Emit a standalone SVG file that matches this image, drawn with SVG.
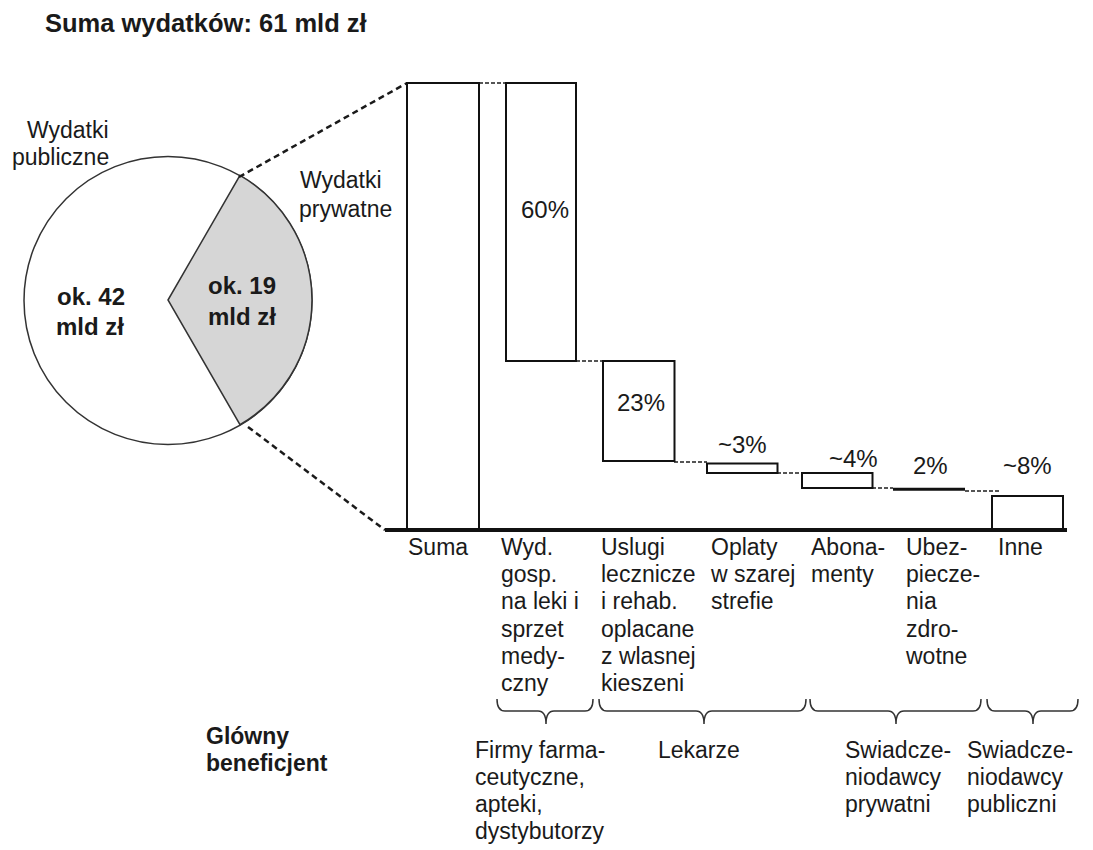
<svg xmlns="http://www.w3.org/2000/svg" width="1093" height="850" viewBox="0 0 1093 850">
<style>
text { font-family: "Liberation Sans", Arial, sans-serif; fill: #1a1a1a; }
.t { font-size: 23px; }
.p { font-size: 24px; }
.b { font-weight: bold; }
.bar { fill: #ffffff; stroke: #111; stroke-width: 2; }
.dash { fill: none; stroke: #1a1a1a; stroke-width: 2.5; stroke-dasharray: 6 4; }
.dot { fill: none; stroke: #555; stroke-width: 2; stroke-dasharray: 4 2; }
.brace { fill: none; stroke: #333; stroke-width: 1.5; }
</style>
<rect width="1093" height="850" fill="#ffffff"/>
<g id="title"><text x="45" y="31.5" class="b" style="font-size:25.5px">Suma wydatków: 61 mld zł</text></g>

<g id="pie">
  <circle cx="168" cy="300.5" r="144" fill="#ffffff" stroke="#333" stroke-width="1.5"/>
  <path d="M168,300 L240,175.3 A144,144 0 0 1 240,424.7 Z" fill="#d6d6d6" stroke="#333" stroke-width="1.5"/>
  <text x="57" y="305" class="b p">ok. 42</text>
  <text x="56" y="335" class="b p">mld zł</text>
  <text x="208" y="294" class="b p">ok. 19</text>
  <text x="208" y="325" class="b p">mld zł</text>
</g>
<g id="label-public"><text x="27" y="138" class="t">Wydatki</text><text x="12" y="165" class="t">publiczne</text></g>
<g id="label-private"><text x="300" y="188" class="t">Wydatki</text><text x="299" y="217" class="t">prywatne</text></g>

<g id="connectors">
  <line x1="239" y1="177" x2="407" y2="83" class="dash"/>
  <line x1="248" y1="427" x2="385" y2="530" class="dash"/>
  <line x1="479" y1="83" x2="506" y2="83" class="dot"/>
  <line x1="576" y1="361" x2="603" y2="361" class="dot"/>
  <line x1="674" y1="462" x2="707" y2="462" class="dot"/>
  <line x1="777" y1="473" x2="802" y2="473" class="dot"/>
  <line x1="872" y1="488" x2="893" y2="488" class="dot"/>
  <line x1="965" y1="491" x2="1000" y2="491" class="dot"/>
</g>

<g id="bar-suma"><rect x="407" y="83" width="72" height="446.5" class="bar"/><text x="408" y="555" class="t">Suma</text></g>
<g id="bar-wyd">
  <rect x="506" y="83" width="70" height="278" class="bar"/>
  <text x="521" y="218" class="p">60%</text>
  <text x="501" class="t"><tspan x="501" y="555">Wyd.</tspan><tspan x="501" y="582">gosp.</tspan><tspan x="501" y="609">na leki i</tspan><tspan x="501" y="637">sprzet</tspan><tspan x="501" y="664">medy-</tspan><tspan x="501" y="691">czny</tspan></text>
</g>
<g id="bar-uslugi">
  <rect x="603" y="361" width="71.5" height="100" class="bar"/>
  <text x="617" y="411" class="p">23%</text>
  <text class="t"><tspan x="601" y="555">Uslugi</tspan><tspan x="601" y="582">lecznicze</tspan><tspan x="601" y="609">i rehab.</tspan><tspan x="601" y="637">oplacane</tspan><tspan x="601" y="664">z wlasnej</tspan><tspan x="601" y="691">kieszeni</tspan></text>
</g>
<g id="bar-oplaty">
  <rect x="707" y="463.5" width="70.5" height="9.5" class="bar"/>
  <text x="718" y="453" class="p">~3%</text>
  <text class="t"><tspan x="711" y="555">Oplaty</tspan><tspan x="711" y="582">w szarej</tspan><tspan x="711" y="609">strefie</tspan></text>
</g>
<g id="bar-abonamenty">
  <rect x="802" y="473" width="70.5" height="15" class="bar"/>
  <text x="829" y="467" class="p">~4%</text>
  <text class="t"><tspan x="811" y="555">Abona-</tspan><tspan x="811" y="582">menty</tspan></text>
</g>
<g id="bar-ubezpieczenia">
  <line x1="893" y1="489.3" x2="965" y2="489.3" stroke="#111" stroke-width="3"/>
  <text x="913" y="474" class="p">2%</text>
  <text class="t"><tspan x="906" y="555">Ubez-</tspan><tspan x="906" y="582">piecze-</tspan><tspan x="906" y="609">nia</tspan><tspan x="906" y="637">zdro-</tspan><tspan x="906" y="664">wotne</tspan></text>
</g>
<g id="bar-inne">
  <rect x="992" y="496" width="71" height="33.5" class="bar"/>
  <text x="1003" y="474" class="p">~8%</text>
  <text x="998" y="555" class="t">Inne</text>
</g>
<g id="axis"><line x1="385" y1="530" x2="1067" y2="530" stroke="#111" stroke-width="4"/></g>

<g id="braces">
  <path class="brace" d="M497,699 Q497,711 505,711 L538,711 Q546,711 546,724 Q546,711 554,711 L585,711 Q593,711 593,699"/>
  <path class="brace" d="M599,699 Q599,711 607,711 L696,711 Q704,711 704,724 Q704,711 712,711 L798,711 Q806,711 806,699"/>
  <path class="brace" d="M810,699 Q810,711 818,711 L888,711 Q896,711 896,724 Q896,711 904,711 L973,711 Q981,711 981,699"/>
  <path class="brace" d="M987,699 Q987,711 995,711 L1025,711 Q1033,711 1033,724 Q1033,711 1041,711 L1070,711 Q1078,711 1078,699"/>
</g>

<g id="beneficiary-label"><text class="t b"><tspan x="206" y="744">Glówny</tspan><tspan x="206" y="771">beneficjent</tspan></text></g>
<g id="ben-firmy"><text class="t"><tspan x="475" y="758">Firmy farma-</tspan><tspan x="475" y="785">ceutyczne,</tspan><tspan x="475" y="812">apteki,</tspan><tspan x="475" y="839">dystybutorzy</tspan></text></g>
<g id="ben-lekarze"><text x="658" y="758" class="t">Lekarze</text></g>
<g id="ben-prywatni"><text class="t"><tspan x="845" y="758">Swiadcze-</tspan><tspan x="845" y="785">niodawcy</tspan><tspan x="845" y="812">prywatni</tspan></text></g>
<g id="ben-publiczni"><text class="t"><tspan x="967" y="758">Swiadcze-</tspan><tspan x="967" y="785">niodawcy</tspan><tspan x="967" y="812">publiczni</tspan></text></g>
</svg>
